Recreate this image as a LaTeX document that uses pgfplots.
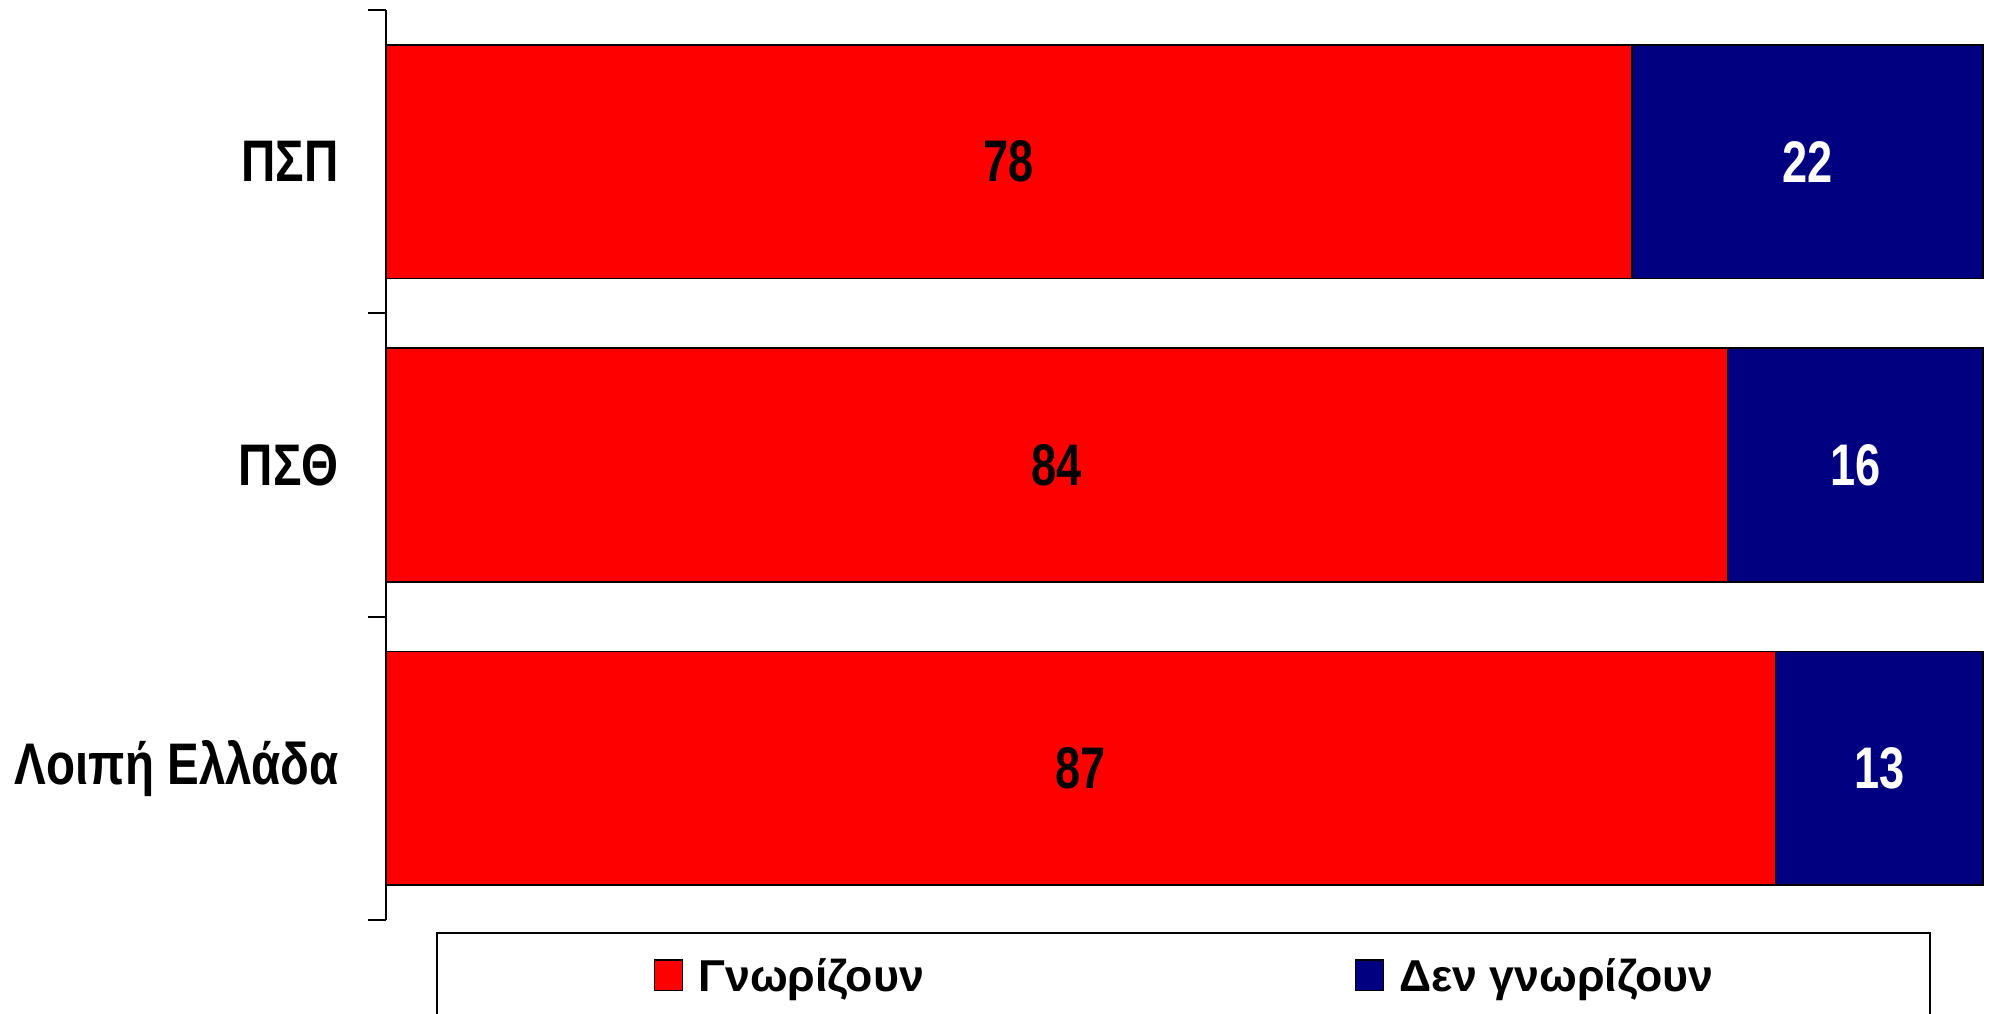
\documentclass[border=0pt]{standalone}
\usepackage{pgfplots}
\pgfplotsset{compat=1.18}
\usepackage{fontspec}
\setmainfont{Liberation Sans}
\newfontfamily\narrowfont{Liberation Sans}[FakeStretch=0.77]
\newfontfamily\ticknarrowfont{Liberation Sans}[FakeStretch=0.81]
\definecolor{cred}{HTML}{FF0000}
\definecolor{cnavy}{HTML}{000080}
\newcommand{\lblfont}{\narrowfont\fontsize{17.6}{20}\selectfont\bfseries}
\newcommand{\tickfont}{\ticknarrowfont\fontsize{17.6}{20}\selectfont\bfseries}
\newcommand{\legfont}{\fontsize{13.4}{15}\selectfont\bfseries}
\begin{document}
\begin{tikzpicture}
\begin{axis}[
  at={(0,0)}, anchor=south west,
  scale only axis, width=479.1pt, height=273pt,
  xmin=0, xmax=100, ymin=-0.5, ymax=2.5,
  axis x line=none, axis y line*=left,
  axis line style={line width=0.6pt, -},
  ytick={0,1,2}, yticklabels={Λοιπή Ελλάδα, ΠΣΘ, ΠΣΠ},
  minor ytick={-0.5,0.5,1.5,2.5},
  major tick length=0pt, minor tick length=5.4pt,
  tick align=outside, tick style={line width=0.6pt, black},
  yticklabel style={font=\tickfont, inner sep=0pt, xshift=-14pt},
  bar width=0.77, bar shift=0pt,
  clip=false,
  legend columns=2,
  legend image code/.code={\draw[#1] (0pt,-4.6pt) rectangle (8.4pt,4.6pt);},
  legend style={at={(0,0)}, anchor=north west, xshift=15pt, yshift=-3.6pt,
    inner xsep=65pt, inner ysep=7.8pt, draw=black, line width=0.6pt,
    font=\legfont, nodes={inner sep=0pt, text height=9.6pt, text depth=0pt},
    /tikz/column sep=4.5pt,
    /tikz/every even column/.append style={column sep=129.2pt}},
]
\addplot[xbar, fill=cnavy, draw=black, line width=0.5pt, forget plot]
  coordinates {(100,0) (100,1) (100,2)};
\addplot[xbar, fill=cred, draw=black, line width=0.5pt, forget plot]
  coordinates {(87,0) (84,1) (78,2)};
\addplot[only marks, mark=none, nodes near coords, point meta=explicit symbolic,
  nodes near coords style={anchor=center, font=\lblfont, text=black}, forget plot]
  coordinates {(43.5,0)[87] (42,1)[84] (39,2)[78]};
\addplot[only marks, mark=none, nodes near coords, point meta=explicit symbolic,
  nodes near coords style={anchor=center, font=\lblfont, text=white}, forget plot]
  coordinates {(93.5,0)[13] (92,1)[16] (89,2)[22]};
\addlegendimage{fill=cred, draw=black, line width=0.5pt}
\addlegendentry{Γνωρίζουν}
\addlegendimage{fill=cnavy, draw=black, line width=0.5pt}
\addlegendentry{Δεν γνωρίζουν}
\end{axis}
\pgfresetboundingbox
\useasboundingbox (-115.8pt,-28.2pt) rectangle (480.9pt,276pt);
\end{tikzpicture}
\end{document}
